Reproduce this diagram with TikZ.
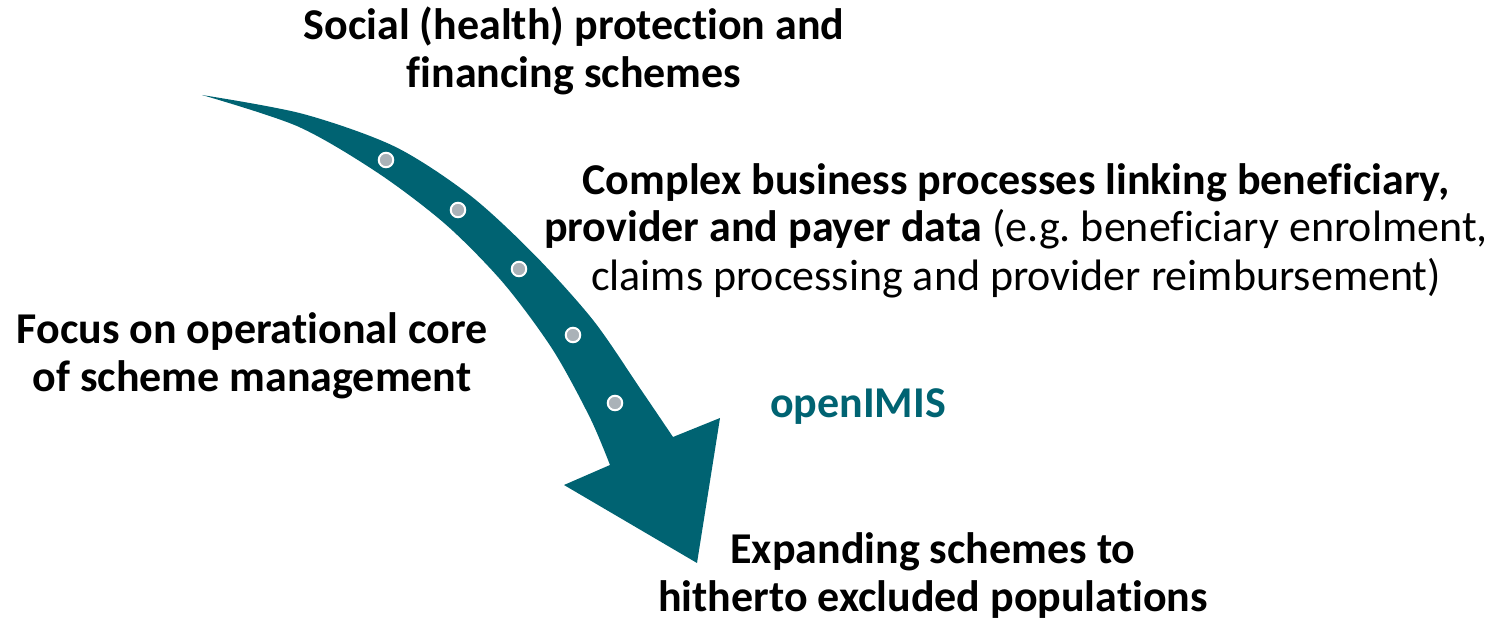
\documentclass[tikz,border=0pt]{standalone}
\usepackage{fontspec}
\setmainfont{Carlito}[Ligatures={NoCommon}]
\definecolor{teal1}{RGB}{0,99,114}
\definecolor{dotgray}{RGB}{170,178,184}
\frenchspacing
\begin{document}
\begin{tikzpicture}[x=1pt,y=-1pt,
  lbl/.style={align=center,anchor=base,inner sep=0pt,font=\fontsize{44}{48}\selectfont\frenchspacing},
  dot/.style={circle,fill=dotgray,draw=white,line width=2pt,minimum size=14.5pt,inner sep=0pt}]
\useasboundingbox (0,0) rectangle (1511,620);
% arrow
\fill[teal1] plot[smooth,tension=0.5] coordinates {(202,95) (302.2,113.7) (394.6,146.5) (470,195.3) (534.5,254.8) (593.3,320.4) (640,388.3) (673,437)}
  -- (720,418) -- (697,563) -- (564,485) -- (610,465)
  -- plot[smooth,tension=0.5] coordinates {(610,465) (590,417.7) (552.7,349.6) (503.5,283.2) (446,224.7) (378,173) (298,126.5) (202,95)} -- cycle;
\node[dot] (d1) at (386,160) {};
\node[dot] (d2) at (458,210) {};
\node[dot] (d3) at (519,269) {};
\node[dot] (d4) at (573,335) {};
\node[dot] (d5) at (615,403) {};
% labels
\node[lbl] (title) at (574,88) {\bfseries Social (health) protection and\\\bfseries financing schemes};
\node[lbl] (complex) at (1016,290) {\bfseries Complex business processes linking beneficiary,\\{\bfseries provider and payer data} (e.g. beneficiary enrolment,\\claims processing and provider reimbursement)};
\node[lbl] (focus) at (252,391) {\bfseries Focus on operational core\\\bfseries of scheme management};
\node[lbl,text=teal1] (openimis) at (858,417) {\bfseries openIMIS};
\node[lbl] (expand) at (933,611) {\bfseries Expanding schemes to\\\bfseries hitherto excluded populations};
\end{tikzpicture}
\end{document}
